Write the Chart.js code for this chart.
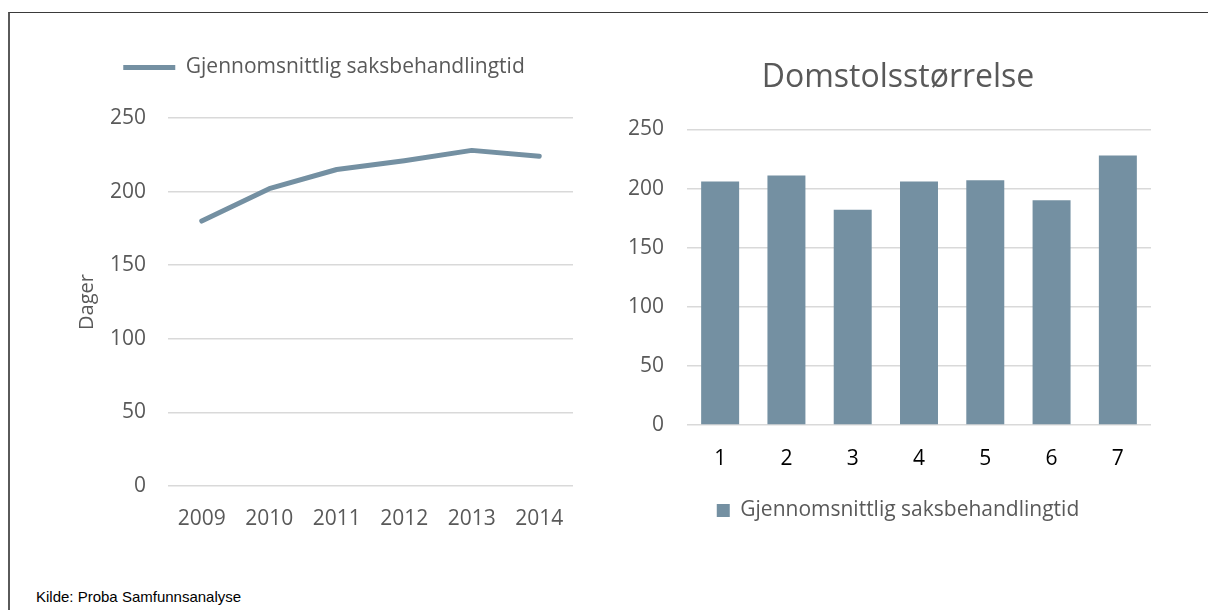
<!DOCTYPE html>
<html>
<head>
<meta charset="utf-8">
<script src="https://cdn.jsdelivr.net/npm/chart.js@4.4.1/dist/chart.umd.min.js"></script>
<style>
  body { margin: 0; background: #fff; width: 1208px; height: 610px; overflow: hidden; position: relative; }
  #frame { position: absolute; left: 8px; top: 12px; width: 1300px; height: 700px; border-top: 1px solid #3a3a3a; border-left: 2px solid #5a5a5a; }
  #left { position: absolute; left: 0; top: 0; }
  #right { position: absolute; left: 600px; top: 0; }
  #source { position: absolute; left: 36px; top: 588px; font: 15px "Liberation Sans", Arial, sans-serif; color: #000; }
</style>
</head>
<body>
<div id="frame"></div>
<canvas id="left" width="600" height="560"></canvas>
<canvas id="right" width="596" height="560"></canvas>
<div id="source">Kilde: Proba Samfunnsanalyse</div>
<script>
var seriesName = 'Gjennomsnittlig saksbehandlingtid';

// venstre: utvikling over tid
var years = ['2009', '2010', '2011', '2012', '2013', '2014'];
var avgDays = [180, 202, 215, 221, 228, 224];

// høyre: etter domstolsstørrelse
var courtSizes = ['1', '2', '3', '4', '5', '6', '7'];
var avgDaysBySize = [206, 211, 182, 206, 207, 190, 228];

var yMin = 0, yMax = 250, yStep = 50;

var blue = '#7490a2';
var textColor = '#595959';
var gridColor = '#d9d9d9';
var fontFamily = '"Open Sans", sans-serif';

// ekstra luft under legenden
var legendMargin = {
  id: 'legendMargin',
  beforeInit: function(chart) {
    var origFit = chart.legend.fit;
    chart.legend.fit = function() {
      origFit.bind(chart.legend)();
      this.height += 30;
    };
  }
};

new Chart(document.getElementById('left'), {
  type: 'line',
  data: {
    labels: years,
    datasets: [{
      label: seriesName,
      data: avgDays,
      borderColor: blue,
      backgroundColor: blue,
      borderWidth: 5,
      borderCapStyle: 'round',
      borderJoinStyle: 'round',
      pointRadius: 0,
      tension: 0
    }]
  },
  options: {
    responsive: false,
    animation: false,
    layout: { padding: { left: 75, top: 30, right: 27, bottom: 0 } },
    plugins: {
      tooltip: { enabled: false },
      legend: {
        position: 'top',
        labels: {
          usePointStyle: true,
          pointStyle: 'line',
          pointStyleWidth: 52,
          padding: 27,
          color: textColor,
          font: { family: fontFamily, size: 21 }
        }
      }
    },
    scales: {
      x: {
        offset: true,
        grid: { display: false },
        border: { display: false },
        ticks: { color: textColor, font: { family: fontFamily, size: 21 }, padding: 12 },
        afterFit: function(s) { s.height = 74; }
      },
      y: {
        min: yMin,
        max: yMax,
        ticks: { stepSize: yStep, color: textColor, font: { family: fontFamily, size: 21 }, padding: 22 },
        grid: { color: gridColor, lineWidth: 1.5, drawTicks: false },
        border: { display: false },
        title: { display: true, text: 'Dager', color: textColor, font: { family: fontFamily, size: 20 }, padding: 0 },
        afterFit: function(s) { s.width = 93; }
      }
    }
  },
  plugins: [legendMargin]
});

new Chart(document.getElementById('right'), {
  type: 'bar',
  data: {
    labels: courtSizes,
    datasets: [{
      label: seriesName,
      data: avgDaysBySize,
      backgroundColor: blue,
      categoryPercentage: 1,
      barPercentage: 0.573
    }]
  },
  options: {
    responsive: false,
    animation: false,
    layout: { padding: { left: 0, top: 0, right: 0, bottom: 29 } },
    plugins: {
      tooltip: { enabled: false },
      title: {
        display: true,
        text: 'Domstolsstørrelse',
        color: textColor,
        font: { family: fontFamily, size: 32, weight: 'normal' },
        padding: { top: 59, bottom: 32 }
      },
      legend: {
        position: 'bottom',
        labels: {
          boxWidth: 13,
          boxHeight: 13,
          padding: 15,
          color: textColor,
          font: { family: fontFamily, size: 21 }
        }
      }
    },
    scales: {
      x: {
        grid: { display: false },
        border: { display: false },
        ticks: { color: '#000', font: { family: fontFamily, size: 21 }, padding: 13 },
        afterFit: function(s) { s.height = 60; }
      },
      y: {
        min: yMin,
        max: yMax,
        ticks: { stepSize: yStep, color: textColor, font: { family: fontFamily, size: 21 }, padding: 23 },
        grid: { color: gridColor, lineWidth: 1.5, drawTicks: false },
        border: { display: false },
        afterFit: function(s) { s.width = 87; }
      },
      // tom akse til høyre, bare for å holde tittel og legende midtstilt
      yRight: {
        position: 'right',
        grid: { display: false },
        border: { display: false },
        ticks: { display: false },
        afterFit: function(s) { s.width = 45; }
      }
    }
  }
});
</script>
</body>
</html>
